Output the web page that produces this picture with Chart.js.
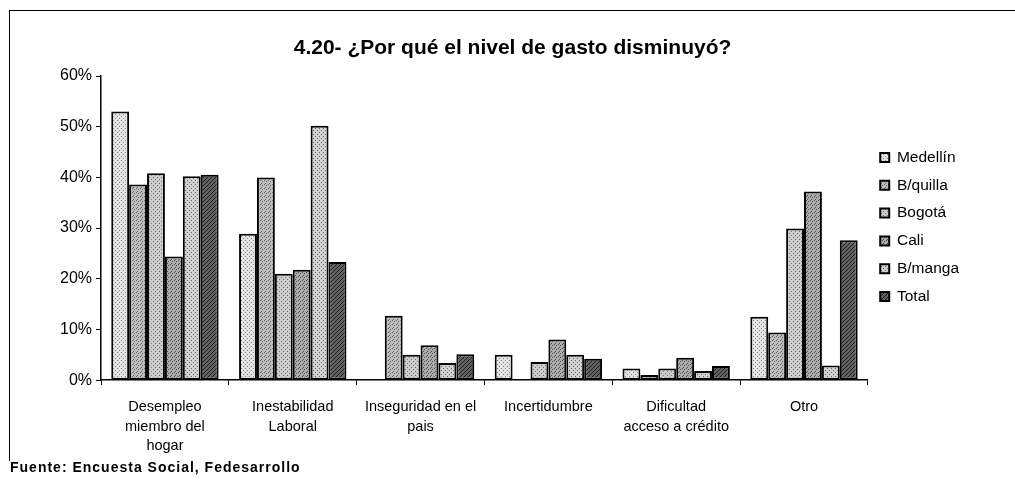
<!DOCTYPE html>
<html>
<head>
<meta charset="utf-8">
<script src="https://cdn.jsdelivr.net/npm/chart.js@4/dist/chart.umd.min.js"></script>
<style>
  body { margin: 0; background: #fff; }
  .wrap { position: relative; width: 1015px; height: 481px; overflow: hidden; }
  .frame { position: absolute; left: 9px; top: 10px; width: 1010px; height: 450px;
           border-top: 1px solid #000; border-left: 1px solid #000; }
  canvas { position: absolute; left: 0; top: 0; }
  .fuente { position: absolute; left: 10px; top: 459px; font: bold 14px "Liberation Sans", Arial, sans-serif;
            letter-spacing: 1px; color: #000; }
</style>
</head>
<body>
<div class="wrap">
  <div class="frame"></div>
  <canvas id="chart" width="1015" height="481"></canvas>
  <div class="fuente">Fuente: Encuesta Social, Fedesarrollo</div>
</div>
<script>
// categories and values (percent)
const categories = [
  ['Desempleo', 'miembro del', 'hogar'],
  ['Inestabilidad', 'Laboral'],
  ['Inseguridad en el', 'pais'],
  ['Incertidumbre'],
  ['Dificultad', 'acceso a crédito'],
  ['Otro']
];
const cityNames = ['Medellín', 'B/quilla', 'Bogotá', 'Cali', 'B/manga', 'Total'];

const medellin = [53.0, 28.9, 0, 5.0, 2.3, 12.5];
const barranquilla = [38.6, 40.0, 12.7, 0, 1.0, 9.4];
const bogota = [40.8, 21.0, 5.0, 3.6, 2.3, 29.9];
const cali = [24.4, 21.8, 6.9, 8.0, 4.4, 37.2];
const bucaramanga = [40.2, 50.2, 3.4, 5.0, 1.8, 2.9];
const total = [40.5, 23.3, 5.1, 4.2, 2.8, 27.6];

const yTicks = [0, 10, 20, 30, 40, 50, 60];

// little stipple fills, like the old print
function stipple(base, dot, spots) {
  const c = document.createElement('canvas');
  c.width = 4; c.height = 4;
  const g = c.getContext('2d');
  g.fillStyle = base;
  g.fillRect(0, 0, 4, 4);
  g.fillStyle = dot;
  spots.forEach(p => g.fillRect(p[0], p[1], 1, 1));
  return g.createPattern(c, 'repeat');
}

const fills = [
  stipple('#e2e2e2', '#8a8a8a', [[1, 0], [3, 2]]),
  stipple('#bdbdbd', '#666666', [[0, 0], [2, 1], [1, 3]]),
  stipple('#cccccc', '#747474', [[1, 1], [3, 3]]),
  stipple('#ababab', '#505050', [[0, 1], [2, 0], [3, 3]]),
  stipple('#d0d0d0', '#6a6a6a', [[1, 2], [3, 0]]),
  stipple('#626262', '#1e1e1e', [[0, 0], [2, 2], [1, 3], [3, 1]])
];

const seriesValues = [medellin, barranquilla, bogota, cali, bucaramanga, total];

const datasets = cityNames.map((name, i) => ({
  label: name,
  data: seriesValues[i],
  backgroundColor: fills[i],
  borderColor: '#000',
  borderWidth: 2,
  borderSkipped: false,
  categoryPercentage: 0.84,
  barPercentage: 1.0
}));

const fontFamily = '"Liberation Sans", Arial, sans-serif';

// nudge the legend a bit higher, as in the original
const legendLift = {
  id: 'legendLift',
  afterLayout(chart) {
    if (chart.legend) {
      chart.legend.top -= 18;
      chart.legend.bottom -= 18;
    }
  }
};

new Chart(document.getElementById('chart'), {
  type: 'bar',
  data: { labels: categories, datasets: datasets },
  plugins: [legendLift],
  options: {
    responsive: false,
    animation: false,
    layout: { padding: { left: 56, right: 46, top: 22, bottom: 13 } },
    plugins: {
      title: {
        display: true,
        text: '4.20- ¿Por qué el nivel de gasto disminuyó?',
        color: '#000',
        font: { family: fontFamily, size: 21, weight: 'bold', lineHeight: 1.2 },
        padding: { top: 14, bottom: 14.8 }
      },
      legend: {
        position: 'right',
        labels: {
          color: '#000',
          font: { family: fontFamily, size: 15.5 },
          boxWidth: 9,
          boxHeight: 9,
          padding: 12.3
        }
      },
      tooltip: { enabled: false }
    },
    scales: {
      x: {
        grid: { drawOnChartArea: false, drawTicks: true, tickLength: 5, color: '#000', offset: true },
        border: { display: true, color: '#000', width: 1.5 },
        ticks: {
          color: '#000',
          maxRotation: 0,
          autoSkip: false,
          padding: 12.5,
          font: { family: fontFamily, size: 14.5, lineHeight: 1.33 }
        }
      },
      y: {
        min: 0,
        max: 60,
        afterBuildTicks: axis => { axis.ticks = yTicks.map(v => ({ value: v })); },
        grid: { drawOnChartArea: false, drawTicks: true, tickLength: 5, color: '#000' },
        border: { display: true, color: '#000', width: 1.5 },
        ticks: {
          color: '#000',
          padding: 4,
          font: { family: fontFamily, size: 16 },
          callback: v => v + '%'
        }
      }
    }
  }
});
</script>
</body>
</html>
